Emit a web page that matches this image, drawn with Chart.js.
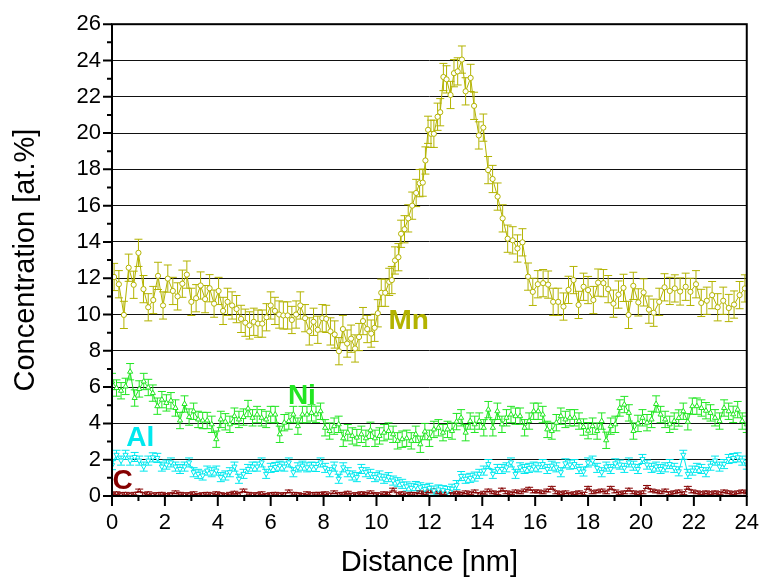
<!DOCTYPE html>
<html>
<head>
<meta charset="utf-8">
<script src="https://cdn.jsdelivr.net/npm/chart.js@4.4.0/dist/chart.umd.min.js"></script>
<style>
  html, body { margin: 0; padding: 0; background: #fff; }
  #wrap { width: 773px; height: 580px; }
</style>
</head>
<body>
<div id="wrap"><canvas id="profile"></canvas></div>
<script>
// Mn was read with its own positions (the peak flanks are dense)
const mnDist = [0.08, 0.26, 0.45, 0.63, 0.82, 1.0, 1.19, 1.37, 1.56, 1.74,
  1.93, 2.11, 2.3, 2.48, 2.66, 2.83, 3.0, 3.18, 3.35, 3.52,
  3.69, 3.86, 4.03, 4.2, 4.37, 4.54, 4.71, 4.88, 5.04, 5.2,
  5.36, 5.52, 5.68, 5.84, 6.0, 6.16, 6.32, 6.48, 6.64, 6.8,
  6.96, 7.12, 7.3, 7.46, 7.62, 7.78, 7.95, 8.1, 8.26, 8.42,
  8.58, 8.73, 8.89, 9.04, 9.19, 9.34, 9.49, 9.65, 9.8, 9.93,
  10.05, 10.18, 10.33, 10.48, 10.58, 10.7, 10.83, 10.93, 11.06, 11.2,
  11.35, 11.5, 11.63, 11.75, 11.85, 11.95, 12.06, 12.17, 12.31, 12.41,
  12.53, 12.65, 12.8, 12.93, 13.07, 13.23, 13.37, 13.56, 13.69, 13.87,
  14.04, 14.22, 14.39, 14.58, 14.77, 14.96, 15.15, 15.33, 15.52, 15.73,
  15.91, 16.1, 16.3, 16.49, 16.68, 16.87, 17.07, 17.26, 17.45, 17.64,
  17.83, 18.0, 18.2, 18.38, 18.58, 18.76, 18.96, 19.15, 19.34, 19.53,
  19.71, 19.9, 20.1, 20.3, 20.48, 20.69, 20.89, 21.09, 21.28, 21.48,
  21.69, 21.87, 22.08, 22.28, 22.49, 22.69, 22.9, 23.11, 23.32, 23.52,
  23.73, 23.93];
const mnConc = [12.07, 11.67, 9.98, 12.58, 11.64, 13.4, 11.4, 10.4, 10.8, 12.13,
  10.5, 11.98, 11.3, 11.0, 11.7, 12.2, 10.7, 10.9, 11.6, 10.85,
  11.45, 10.6, 11.3, 10.2, 10.7, 10.5, 10.3, 9.76, 9.55, 9.4,
  9.6, 9.5, 9.5, 9.85, 10.5, 10.2, 10.0, 9.95, 9.95, 9.7,
  10.0, 10.5, 9.8, 9.07, 9.6, 9.16, 9.8, 9.76, 9.07, 8.9,
  7.98, 9.2, 8.4, 8.67, 8.13, 8.76, 9.64, 9.2, 8.95, 9.27,
  10.07, 11.2, 11.2, 11.8, 11.9, 12.98, 13.16, 14.45, 14.7, 15.3,
  16.0, 16.7, 17.24, 17.27, 18.49, 20.18, 19.96, 19.96, 20.9, 21.15,
  23.09, 22.96, 22.1, 23.3, 23.4, 24.05, 22.3, 23.04, 21.5, 19.87,
  20.3, 17.96, 17.47, 16.5, 15.3, 14.18, 14.09, 13.64, 13.98, 12.09,
  11.25, 11.67, 11.73, 11.65, 10.7, 10.7, 10.44, 11.36, 11.9, 10.53,
  11.53, 11.35, 10.8, 11.76, 11.73, 11.4, 10.6, 11.1, 11.47, 9.98,
  11.58, 10.67, 11.22, 10.27, 10.1, 10.7, 11.5, 11.3, 11.44, 11.27,
  11.53, 11.25, 11.67, 10.64, 10.76, 11.07, 10.4, 10.76, 10.36, 10.55,
  11.07, 11.44];

// Ni, Al, C share the scan grid (141 points over 0..24 nm)
const scanStep = 24 / 140;
const niConc = [6.31, 5.95, 5.8, 6.04, 6.85, 5.4, 5.9, 6.31, 5.98, 5.67,
  4.95, 5.31, 5.13, 5.25, 4.85, 4.16, 5.07, 4.35, 4.67, 4.22,
  4.16, 4.16, 3.95, 3.13, 4.22, 4.09, 3.95, 4.4, 4.22, 4.35,
  4.82, 4.31, 4.49, 4.31, 4.22, 4.49, 4.49, 3.4, 4.04, 4.13,
  4.49, 3.85, 4.49, 4.49, 4.58, 4.5,
  4.67, 3.76, 3.58, 3.85, 3.95, 3.18, 3.49, 3.31, 3.22, 3.4,
  3.18, 3.62, 3.18, 3.31, 3.49, 3.58, 3.4, 3.04, 3.13, 3.18,
  3.04, 3.4, 2.85, 3.55, 3.18, 3.67, 3.76, 3.49, 3.67, 3.58,
  4.1, 4.31, 3.49, 4.13, 3.95, 4.13, 3.76, 4.76, 3.76, 4.67,
  3.95, 4.31, 4.49, 4.4, 4.4, 3.76, 4.13, 4.67,
  4.67, 4.49, 3.67, 3.58, 4.04, 4.4, 4.22, 4.31, 4.31, 4.13,
  3.8, 3.6, 3.85, 3.58, 4.13, 3.07, 3.85, 3.95, 4.85, 5.04,
  4.58, 3.58, 4.0, 4.31, 4.04, 4.22, 5.07, 4.49, 4.22, 3.95,
  4.13, 4.3, 4.67, 4.09, 4.95, 4.95, 4.85, 4.7, 4.58, 4.31,
  4.13, 4.85, 4.67, 4.5, 4.76, 4.13, 3.95];
const alConc = [1.7, 2.27, 1.95, 2.27, 1.95, 2.15, 1.95, 1.62, 1.95, 2.13,
  2.1, 1.62, 1.73, 1.85, 1.62, 1.49, 1.62, 1.85, 1.31, 1.22,
  1.13, 1.4, 1.31, 1.4, 1.04, 1.13, 1.31, 1.62, 0.95, 1.22,
  1.49, 1.62, 1.62, 1.85, 1.22, 1.55, 1.6, 1.67, 1.62, 1.85,
  1.31, 1.58, 1.67, 1.58, 1.62, 1.6,
  1.85, 1.55, 1.31, 1.62, 0.95, 1.58, 1.31, 1.13, 1.04, 1.49,
  1.31, 1.22, 1.04, 1.13, 0.95, 1.04, 0.85, 0.76, 0.67, 0.53,
  0.45, 0.55, 0.48, 0.38, 0.45, 0.3, 0.36, 0.32, 0.28, 0.4,
  0.6, 1.1, 0.95, 1.0, 1.07, 1.22, 1.4, 1.76, 1.22, 1.49,
  1.49, 1.58, 1.85, 1.22, 1.58, 1.49, 1.55, 1.62,
  1.58, 1.76, 1.49, 1.67, 1.58, 1.31, 1.8, 1.73, 1.76, 1.49,
  1.35, 1.85, 1.95, 1.55, 1.31, 1.62, 1.49, 1.8, 1.73, 1.55,
  1.85, 1.67, 1.49, 2.04, 1.73, 1.55, 1.62, 1.49, 1.58, 1.76,
  1.55, 1.36, 2.27, 1.22, 1.4, 1.55, 1.49, 1.31, 1.67, 1.95,
  1.62, 1.76, 2.04, 2.09, 2.13, 1.95, 1.73];
const cConc = [0.1, 0.15, 0.1, 0.12, 0.08, 0.12, 0.3, 0.1, 0.15, 0.08,
  0.1, 0.12, 0.05, 0.1, 0.2, 0.12, 0.08, 0.1, 0.15, 0.05,
  0.1, 0.12, 0.08, 0.15, 0.1, 0.05, 0.12, 0.18, 0.1, 0.3,
  0.12, 0.08, 0.1, 0.15, 0.05, 0.1, 0.12, 0.08, 0.1, 0.25,
  0.12, 0.1, 0.05, 0.15, 0.1, 0.12,
  0.12, 0.15, 0.08, 0.2, 0.1, 0.12, 0.18, 0.08, 0.1, 0.15,
  0.12, 0.2, 0.1, 0.08, 0.15, 0.12, 0.35, 0.1, 0.15, 0.08,
  0.12, 0.1, 0.2, 0.15, 0.25, 0.3, 0.2, 0.15, 0.25, 0.1,
  0.18, 0.12, 0.2, 0.15, 0.25, 0.1, 0.18, 0.3, 0.2, 0.15,
  0.35, 0.2, 0.15, 0.25, 0.2, 0.3, 0.4, 0.25,
  0.25, 0.2, 0.3, 0.45, 0.2, 0.15, 0.2, 0.1, 0.15, 0.2,
  0.12, 0.45, 0.2, 0.25, 0.3, 0.2, 0.45, 0.25, 0.15, 0.2,
  0.35, 0.2, 0.15, 0.2, 0.5, 0.3, 0.25, 0.2, 0.3, 0.15,
  0.2, 0.25, 0.15, 0.45, 0.25, 0.2, 0.15, 0.2, 0.15, 0.2,
  0.15, 0.25, 0.2, 0.15, 0.2, 0.25, 0.2];

// error bar half widths (at.%)
const mnErr = 0.75, niErr = 0.45, alErr = 0.25, cErr = 0.08;

const FONT = "'Liberation Sans', Arial, sans-serif";
const colors = { Mn: '#b3b300', Ni: '#22e622', Al: '#00e8ee', C: '#850000' };

function toPoints(values, dist) {
  return values.map((v, i) => ({ x: dist ? dist[i] : i * scanStep, y: v }));
}

const errorBars = {
  id: 'errorBars',
  beforeDatasetsDraw(chart) {
    const { ctx, chartArea: a, scales: { x, y } } = chart;
    ctx.save();
    ctx.beginPath();
    ctx.rect(a.left, a.top, a.right - a.left, a.bottom - a.top);
    ctx.clip();
    ctx.lineWidth = 1;
    chart.data.datasets.forEach((ds) => {
      ctx.strokeStyle = ds.borderColor;
      ctx.beginPath();
      ds.data.forEach((p) => {
        const px = x.getPixelForValue(p.x);
        const top = y.getPixelForValue(p.y + ds.errorBar);
        const bot = y.getPixelForValue(p.y - ds.errorBar);
        ctx.moveTo(px, top); ctx.lineTo(px, bot);
        ctx.moveTo(px - 4, top); ctx.lineTo(px + 4, top);
        ctx.moveTo(px - 4, bot); ctx.lineTo(px + 4, bot);
      });
      ctx.stroke();
    });
    ctx.restore();
  }
};

const frameTicks = {
  id: 'frameTicks',
  afterDraw(chart) {
    const { ctx, chartArea: a, scales: { x, y } } = chart;
    ctx.save();
    ctx.strokeStyle = '#000';
    ctx.lineWidth = 2;
    ctx.strokeRect(a.left, a.top, a.right - a.left, a.bottom - a.top);
    ctx.beginPath();
    for (let v = y.min; v <= y.max; v++) {
      const py = y.getPixelForValue(v);
      ctx.moveTo(a.left - (v % 2 ? 5 : 9), py); ctx.lineTo(a.left, py);
    }
    for (let v = x.min; v <= x.max; v++) {
      const px = x.getPixelForValue(v);
      ctx.moveTo(px, a.bottom); ctx.lineTo(px, a.bottom + (v % 2 ? 5 : 10));
    }
    ctx.stroke();
    ctx.restore();
  }
};

// element names written next to their curves
const curveLabels = [
  { text: 'Mn', x: 10.45, y: 9.2 },
  { text: 'Ni', x: 6.65, y: 5.06 },
  { text: 'Al', x: 0.54, y: 2.75 },
  { text: 'C', x: 0.02, y: 0.39 }
];
const labelPlugin = {
  id: 'curveLabels',
  afterDatasetsDraw(chart) {
    const { ctx, scales: { x, y } } = chart;
    ctx.save();
    ctx.font = 'bold 28px ' + FONT;
    ctx.textAlign = 'left';
    ctx.textBaseline = 'alphabetic';
    curveLabels.forEach((l) => {
      ctx.fillStyle = colors[l.text];
      ctx.fillText(l.text, x.getPixelForValue(l.x), y.getPixelForValue(l.y));
    });
    ctx.restore();
  }
};

function series(label, points, style, rotation, radius, err) {
  return {
    label,
    data: points,
    borderColor: colors[label],
    backgroundColor: '#fff',
    borderWidth: 1,
    pointStyle: style,
    rotation,
    pointRadius: radius,
    pointBorderWidth: 1,
    pointBackgroundColor: '#fff',
    pointBorderColor: colors[label],
    tension: 0,
    fill: false,
    errorBar: err
  };
}

new Chart(document.getElementById('profile'), {
  type: 'line',
  data: {
    datasets: [
      series('Mn', toPoints(mnConc, mnDist), 'circle', 0, 2.6, mnErr),
      series('Ni', toPoints(niConc), 'triangle', 0, 3, niErr),
      series('Al', toPoints(alConc), 'triangle', 180, 3, alErr),
      series('C', toPoints(cConc), 'triangle', 0, 2, cErr)
    ]
  },
  options: {
    responsive: true,
    maintainAspectRatio: false,
    animation: false,
    layout: { padding: { top: 18, right: 12, left: 0, bottom: 0 } },
    plugins: { legend: { display: false }, tooltip: { enabled: false } },
    scales: {
      x: {
        type: 'linear',
        min: 0,
        max: 24,
        afterFit: (s) => { s.height = 84; },
        grid: { display: false, drawTicks: false },
        border: { display: false },
        ticks: { stepSize: 2, padding: 14, color: '#000', font: { family: FONT, size: 22 } },
        title: { display: true, text: 'Distance [nm]', color: '#000', padding: { bottom: 0 }, font: { family: FONT, size: 29 } }
      },
      y: {
        min: 0,
        max: 26,
        afterFit: (s) => { s.width = 112; },
        grid: { color: '#111', lineWidth: 1, drawTicks: false },
        border: { display: false },
        ticks: { stepSize: 2, padding: 11, color: '#000', font: { family: FONT, size: 22 } },
        title: { display: true, text: 'Concentration [at.%]', color: '#000', padding: { top: 9 }, font: { family: FONT, size: 29 } }
      }
    }
  },
  plugins: [errorBars, labelPlugin, frameTicks]
});
</script>
</body>
</html>
